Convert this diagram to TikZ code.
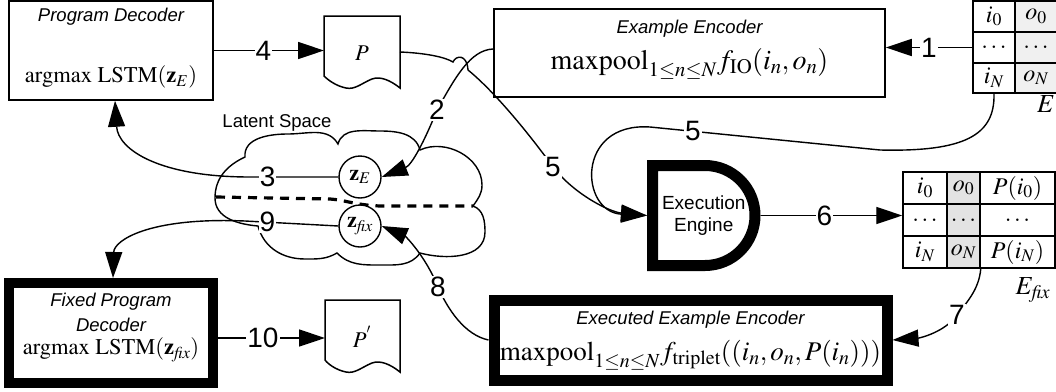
\documentclass[tikz,border=0pt]{standalone}
\usepackage{mathptmx}
\usepackage{fontspec}
\setmainfont{Liberation Serif}
\setsansfont{Liberation Sans}
\usetikzlibrary{arrows.meta}
\tikzset{
  num/.style={fill=white,inner sep=1pt,font=\sffamily\fontsize{28}{28}\selectfont},
  arr/.style={line width=1.4pt,-{Triangle[length=26pt,width=17pt]}},
  thinbox/.style={draw,line width=1.5pt,inner sep=0,outer sep=0.75pt},
  thickbox/.style={draw,line width=10pt,inner sep=0,outer sep=5pt},
  ttl/.style={inner sep=0,font=\sffamily\itshape\fontsize{18.5}{22}\selectfont},
  form/.style={inner sep=0,font=\fontsize{22.5}{25}\selectfont},
  bigform/.style={inner sep=0,font=\fontsize{28}{30}\selectfont},
  cellbox/.style={draw,line width=1.5pt,inner sep=0,font=\fontsize{24}{24}\selectfont},
  zcirc/.style={draw,circle,line width=1.4pt,fill=white,minimum size=42pt,inner sep=0,font=\fontsize{22}{22}\selectfont},
  docline/.style={line width=1.5pt},
}
\begin{document}
\begin{tikzpicture}[x=1pt,y=1pt]
\useasboundingbox (0,0) rectangle (1056,-391);

% ---------- Program Decoder ----------
\node[thinbox,minimum width=204pt,minimum height=99pt] (pd) at (111,-50.5) {};
\node[ttl] (pdt) at (111,-17) {Program Decoder};
\node[form] (pdf) at (111,-77) {$\mathrm{argmax}\ \mathrm{LSTM}(\mathbf{z}_E)$};

% ---------- P document ----------
\node[minimum width=76pt,minimum height=72pt,inner sep=0,outer sep=0] (P) at (362,-52) {};
\draw[docline] (324,-16) -- (400,-16) -- (400,-88)
  .. controls (390,-80) and (380,-76) .. (372,-79)
  .. controls (362,-83) and (355,-90) .. (346,-88)
  .. controls (336,-86) and (328,-80) .. (324,-76) -- cycle;
\node[form] (Pt) at (362,-53) {$P$};

% ---------- Example Encoder ----------
\node[thinbox,minimum width=391pt,minimum height=88pt] (ex) at (689.5,-53) {};
\node[ttl] (ext) at (689.5,-29) {Example Encoder};
\node[bigform] (exf) at (689.5,-64) {$\mathrm{maxpool}_{1\le n\le N}f_{\mathrm{IO}}(i_n,o_n)$};

% ---------- E table ----------
\fill[gray!12] (1015,-1) rectangle (1057,-93);
\node[cellbox,minimum width=42pt,minimum height=31pt] (e00) at (994,-16.5) {$i_0$};
\node[cellbox,minimum width=42pt,minimum height=31pt] (e01) at (1036,-16.5) {$o_0$};
\node[cellbox,minimum width=42pt,minimum height=31pt] (e10) at (994,-47.5) {$\ldots$};
\node[cellbox,minimum width=42pt,minimum height=31pt] (e11) at (1036,-47.5) {$\ldots$};
\node[cellbox,minimum width=42pt,minimum height=30pt] (e20) at (994,-78) {$i_N$};
\node[cellbox,minimum width=42pt,minimum height=30pt] (e21) at (1036,-78) {$o_N$};
\node[inner sep=0,font=\fontsize{26}{26}\selectfont] (El) at (1046,-104) {$E$};

% ---------- Latent space cloud ----------
\node[inner sep=0,font=\sffamily\fontsize{18.5}{20}\selectfont] (ls) at (277,-123) {Latent Space};
\draw[line width=1.4pt] (245,-157) to[out=95,in=180] (288,-134) to[out=0,in=120] (338,-144)
  to[out=75,in=180] (380,-131) to[out=0,in=105] (420,-150)
  to[out=25,in=90] (482,-185) to[out=-90,in=55] (473,-206)
  to[out=-20,in=90] (485,-232) to[out=-90,in=-15] (420,-253)
  to[out=-125,in=0] (380,-265) to[out=180,in=-45] (337,-253)
  to[out=-150,in=0] (305,-259) to[out=180,in=-75] (258,-226)
  to[out=175,in=-90] (215,-198) to[out=90,in=-155] (245,-157) -- cycle;
\draw[line width=3.2pt,dash pattern=on 9pt off 7pt] (216,-197) -- (330,-199)
  .. controls (345,-200) and (355,-205) .. (380,-206) -- (473,-206);
\node[zcirc] (zE) at (360,-177) {$\mathbf{z}_E$};
\node[zcirc] (zfix) at (360,-226) {$\mathbf{z}_{\mathit{fix}}$};

% ---------- Execution Engine ----------
\node[minimum width=113.5pt,minimum height=111pt,inner sep=0,outer sep=0,align=center,
      font=\sffamily\fontsize{19}{22}\selectfont] (eng) at (703.75,-215.5) {Execution\\Engine};
\draw[line width=11pt,line join=miter] (705,-165.5) -- (652.5,-165.5) -- (652.5,-265.5) -- (705,-265.5)
  arc[start angle=-90,end angle=90,radius=50] -- cycle;

% ---------- E_fix table ----------
\fill[gray!22] (947,-172) rectangle (980,-268);
\node[cellbox,minimum width=44pt,minimum height=32pt] (f00) at (925,-188) {$i_0$};
\node[cellbox,minimum width=33pt,minimum height=32pt] (f01) at (963.5,-188) {$o_0$};
\node[cellbox,minimum width=75pt,minimum height=32pt] (f02) at (1017.5,-188) {$P(i_0)$};
\node[cellbox,minimum width=44pt,minimum height=32pt] (f10) at (925,-220) {$\ldots$};
\node[cellbox,minimum width=33pt,minimum height=32pt] (f11) at (963.5,-220) {$\ldots$};
\node[cellbox,minimum width=75pt,minimum height=32pt] (f12) at (1017.5,-220) {$\ldots$};
\node[cellbox,minimum width=44pt,minimum height=32pt] (f20) at (925,-252) {$i_N$};
\node[cellbox,minimum width=33pt,minimum height=32pt] (f21) at (963.5,-252) {$o_N$};
\node[cellbox,minimum width=75pt,minimum height=32pt] (f22) at (1017.5,-252) {$P(i_N)$};
\node[inner sep=0,font=\fontsize{26}{26}\selectfont] (Efl) at (1033,-290) {$E_{\mathit{fix}}$};

% ---------- Fixed Program Decoder ----------
\node[thickbox,minimum width=204pt,minimum height=100pt] (fpd) at (111,-333) {};
\node[ttl] (fpdt1) at (111,-302) {Fixed Program};
\node[ttl] (fpdt2) at (111,-325) {Decoder};
\node[form] (fpdf) at (111,-350) {$\mathrm{argmax}\ \mathrm{LSTM}(\mathbf{z}_{\mathit{fix}})$};

% ---------- P' document ----------
\node[minimum width=75pt,minimum height=72pt,inner sep=0,outer sep=0] (P2) at (362.5,-336) {};
\draw[docline] (325,-300) -- (400,-300) -- (400,-372)
  .. controls (390,-364) and (380,-360) .. (372,-363)
  .. controls (362,-367) and (355,-374) .. (346,-372)
  .. controls (336,-370) and (328,-364) .. (325,-360) -- cycle;
\node[form] (P2t) at (362,-337) {$P^{'}$};

% ---------- Executed Example Encoder ----------
\node[draw,line width=11pt,inner sep=0,outer sep=5.5pt,minimum width=393pt,minimum height=80pt] (eee) at (690.5,-340) {};
\node[ttl] (eeet) at (690.5,-320) {Executed Example Encoder};
\node[inner sep=0,font=\fontsize{27}{29}\selectfont] (eeef) at (690.5,-355) {$\mathrm{maxpool}_{1\le n\le N}f_{\mathrm{triplet}}((i_n,o_n,P(i_n)))$};

% ---------- connectors ----------
% 1
\draw[arr] (e10.west) -- node[num,pos=0.5]{1} (e10.west -| ex.east);
% 2
\draw[arr] (493,-49) .. controls (470,-50) and (455,-78) .. (437,-110) node[num]{2}
  .. controls (425,-140) and (412,-165) .. (zE.east);
% 3
\draw[arr] (zE.west) -- node[num,pos=0.8]{3} (250,-177)
  .. controls (160,-177) and (118,-150) .. ([xshift=4pt]pd.south);
% 4
\draw[arr] (pd.east) -- node[num,pos=0.45]{4} (pd.east -| P.west);
% 5 (from P)
\draw[arr] (P.east) .. controls (425,-53) and (445,-57) .. (453,-62)
  .. controls (456,-55) and (467,-54) .. (468,-70)
  .. controls (495,-92) and (530,-135) .. (553,-167) node[num]{5}
  .. controls (575,-195) and (610,-212) .. (eng.west);
% 5 (from E)
\draw[arr] (e20.south) .. controls (995,-135) and (965,-152) .. (880,-150)
  -- node[num,pos=0.813]{5} (650,-127)
  .. controls (575,-122) and (580,-212) .. (eng.west);
% 6
\draw[arr] (eng.east) -- node[num,pos=0.45]{6} (eng.east -| f10.west);
% 7
\draw[arr] (f21.south east) .. controls (979,-290) and (966,-303) .. (957,-315) node[num]{7}
  .. controls (945,-332) and (920,-338) .. (eee.east);
% 8
\draw[arr] (eee.west) .. controls (465,-335) and (448,-310) .. (438,-287) node[num]{8}
  .. controls (425,-255) and (405,-236) .. (zfix.east);
% 9
\draw[arr] (zfix.west) -- node[num,pos=0.76]{9} (245,-221)
  .. controls (150,-217) and (114,-240) .. ([xshift=2pt]fpd.north);
% 10
\draw[arr] ([yshift=-5pt]fpd.east) -- node[num,pos=0.42]{10} ([yshift=-5pt]fpd.east -| P2.west);
\end{tikzpicture}
\end{document}
